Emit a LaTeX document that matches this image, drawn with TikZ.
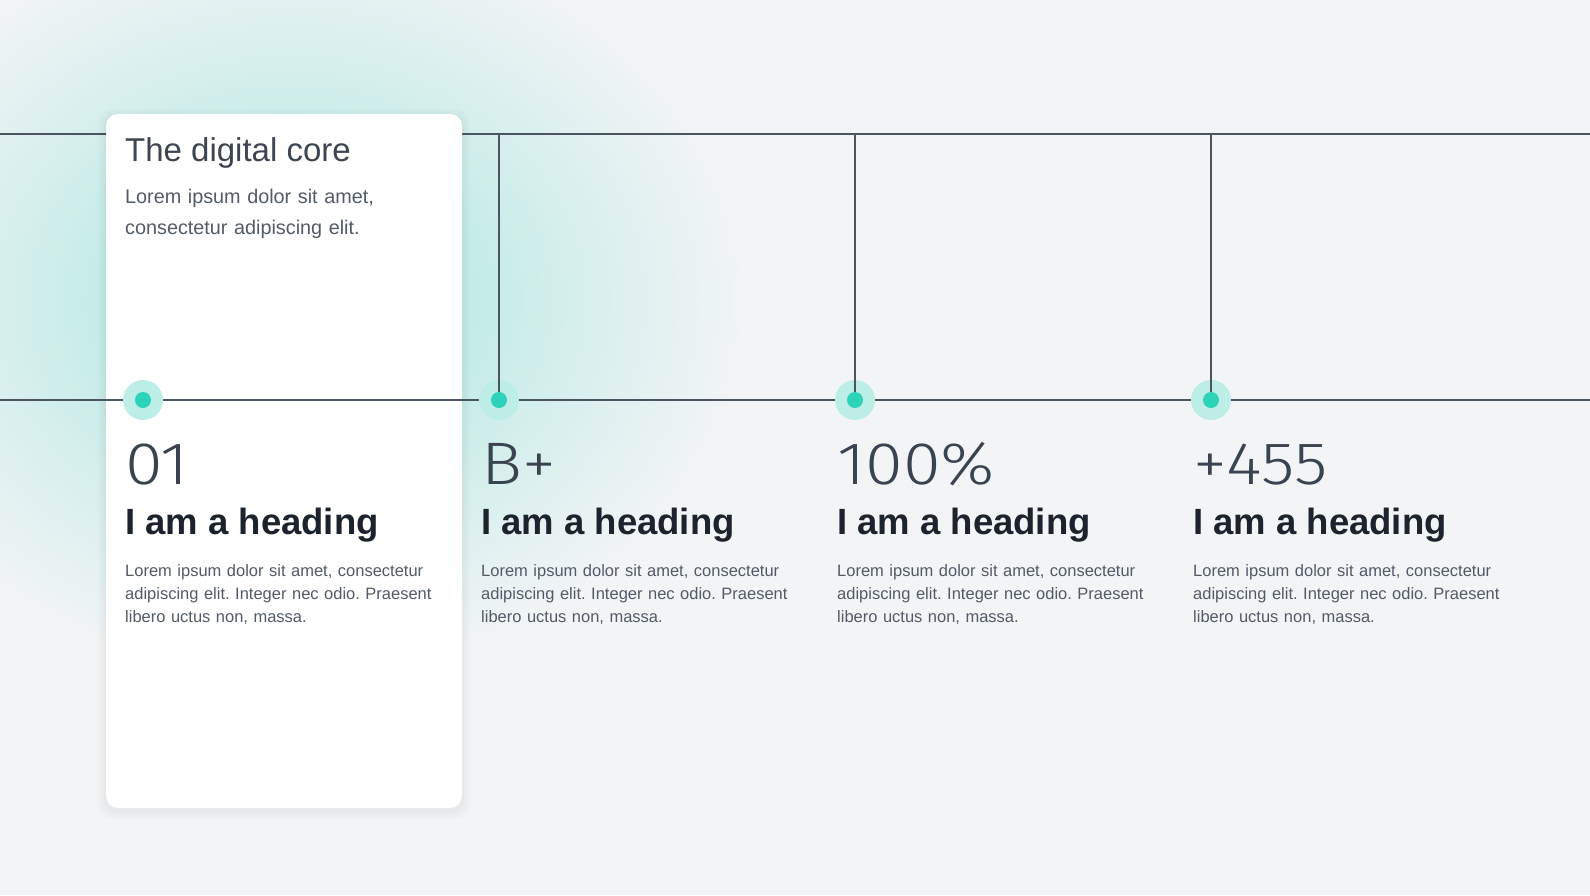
\documentclass[tikz,border=0pt]{standalone}
\usepackage{fontspec}
\setmainfont{Liberation Sans}
\newfontfamily\numfont[FakeStretch=1.14]{Fira Sans Light}
\frenchspacing
\definecolor{bgc}{HTML}{F3F4F6}
\definecolor{glowc}{HTML}{C4ECE7}
\definecolor{glowmid}{HTML}{DAF0EE}
\definecolor{rulec}{HTML}{4A5560}
\definecolor{titlec}{HTML}{3D4550}
\definecolor{headc}{HTML}{1C232C}
\definecolor{parac}{HTML}{535B66}
\definecolor{numc}{HTML}{3A4350}
\definecolor{dotc}{HTML}{2CD3B8}
\definecolor{haloc}{HTML}{BDEEE6}
\pgfdeclareradialshading{glowshade}{\pgfpoint{0bp}{0bp}}{color(0bp)=(glowc); color(10bp)=(glowc); color(17bp)=(glowmid); color(25bp)=(bgc); color(50bp)=(bgc)}
\tikzset{
  rule/.style={draw=rulec, line width=1.1pt},
  card/.style={fill=white, rounded corners=12pt, draw=none},
  cardshadow/.style={fill=black, opacity=0.01, rounded corners=14pt, draw=none},
  halo/.style={circle, fill=haloc, minimum size=40pt, inner sep=0pt},
  dotn/.style={circle, fill=dotc, minimum size=16pt, inner sep=0pt},
  titletxt/.style={anchor=base west, inner sep=0pt, text=titlec, font=\fontsize{33}{40}\selectfont},
  subtxt/.style={anchor=base west, inner sep=0pt, text width=330pt, align=left, text=parac, font=\fontsize{19.8}{31.5}\selectfont},
  numtxt/.style={anchor=base west, inner sep=0pt, text=numc, font=\numfont\fontsize{60}{66}\selectfont},
  headtxt/.style={anchor=base west, inner sep=0pt, text=headc, font=\bfseries\fontsize{36.5}{42}\selectfont},
  paratxt/.style={anchor=base west, inner sep=0pt, text width=320pt, align=left, text=parac, font=\fontsize{16.5}{23}\selectfont}
}
\begin{document}
\begin{tikzpicture}[x=1pt,y=-1pt]
\useasboundingbox (0,0) rectangle (1590,895);
\begin{scope}
\clip (0,0) rectangle (1590,895);
\fill[bgc] (0,0) rectangle (1590,895);
\shade[shading=glowshade] (290,300) ellipse [x radius=460, y radius=380];
\end{scope}
% top rule
\coordinate (tl) at (0,134);
\coordinate (tr) at (1590,134);
\draw[rule] (tl) -- (tr);
% card shadow
\foreach \s in {2,4,6,8}{
  \fill[cardshadow] (106-\s,114-\s+3) rectangle (462+\s,808+\s+3);
}
% card
\fill[card] (106,114) rectangle (462,808);
% middle rule
\coordinate (ml) at (0,400);
\coordinate (mr) at (1590,400);
\draw[rule] (ml) -- (mr);
% dots and verticals
\foreach \i/\x in {1/143,2/499,3/855,4/1211}{
  \coordinate (top\i) at (\x,134);
  \node[halo] (halo\i) at (\x,400) {};
}
\foreach \i in {2,3,4}{
  \draw[rule] (top\i) -- (halo\i.center);
}
\foreach \i/\x in {1/143,2/499,3/855,4/1211}{
  \node[dotn] (dot\i) at (\x,400) {};
}
% card text
\node[titletxt] (title) at (125,161) {The digital core};
\node[subtxt] (sub) at (125,203) {Lorem ipsum dolor sit amet,\\consectetur adipiscing elit.};
% columns
\foreach \i/\x/\n in {1/125/01,2/481/B+,3/837/100\%,4/1193/+455}{
  \node[numtxt] (num\i) at (\x,484) {\n};
  \node[headtxt] (head\i) at (\x,534) {I am a heading};
  \node[paratxt] (para\i) at (\x,576) {Lorem ipsum dolor sit amet, consectetur\\adipiscing elit. Integer nec odio. Praesent\\libero uctus non, massa.};
}
\end{tikzpicture}
\end{document}
